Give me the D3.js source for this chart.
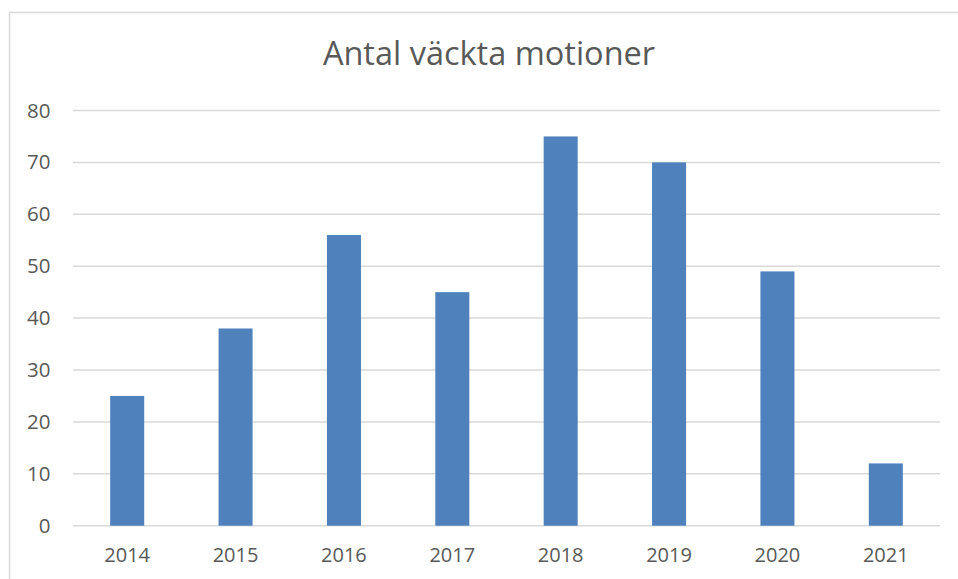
<!DOCTYPE html>
<html>
<head>
<meta charset="utf-8">
<script src="https://cdnjs.cloudflare.com/ajax/libs/d3/7.8.5/d3.min.js"></script>
<style>
  body { margin: 0; background: #fff; }
  text { font-family: "Open Sans", "Noto Sans", sans-serif; fill: #595959; }
</style>
</head>
<body>
<script>
// data
var years = ["2014", "2015", "2016", "2017", "2018", "2019", "2020", "2021"];
var motioner = [25, 38, 56, 45, 75, 70, 49, 12];
var yTicks = [0, 10, 20, 30, 40, 50, 60, 70, 80];
var title = "Antal väckta motioner";

var width = 958, height = 579;
var plotLeft = 73, plotRight = 940, plotTop = 110.5, plotBottom = 525.7;

var svg = d3.select("body").append("svg")
	.attr("width", width)
	.attr("height", height);

// chart frame
svg.append("rect")
	.attr("x", 9.5)
	.attr("y", 12.5)
	.attr("width", 960)
	.attr("height", 600)
	.attr("fill", "#fff")
	.attr("stroke", "#d9d9d9")
	.attr("stroke-width", 1.5);

var x = d3.scaleBand()
	.domain(years)
	.range([plotLeft, plotRight])
	.paddingInner(0.686)
	.paddingOuter(0.343);

var y = d3.scaleLinear()
	.domain([0, 80])
	.range([plotBottom, plotTop]);

// gridlines
svg.append("g")
	.selectAll("line")
	.data(yTicks)
	.join("line")
	.attr("x1", plotLeft)
	.attr("x2", plotRight)
	.attr("y1", d => y(d))
	.attr("y2", d => y(d))
	.attr("stroke", "#d9d9d9")
	.attr("stroke-width", 1.5);

// y labels
var yAxis = svg.append("g")
	.attr("transform", "translate(" + plotLeft + ",0)")
	.call(d3.axisLeft(y).tickValues(yTicks).tickSize(0).tickPadding(22.5));
yAxis.select(".domain").remove();
yAxis.selectAll("text")
	.attr("font-size", 20.5)
	.attr("fill", "#595959")
	.attr("font-family", "'Open Sans', sans-serif");

// bars
svg.append("g")
	.selectAll("rect")
	.data(motioner)
	.join("rect")
	.attr("x", (d, i) => x(years[i]))
	.attr("y", d => y(d))
	.attr("width", x.bandwidth())
	.attr("height", d => y(0) - y(d))
	.attr("fill", "#4f81bd");

// x labels
var xAxis = svg.append("g")
	.attr("transform", "translate(0," + plotBottom + ")")
	.call(d3.axisBottom(x).tickSize(0).tickPadding(22));
xAxis.select(".domain").remove();
xAxis.selectAll("text")
	.attr("font-size", 20)
	.attr("fill", "#595959")
	.attr("font-family", "'Open Sans', sans-serif");

// title
svg.append("text")
	.attr("x", 489)
	.attr("y", 65)
	.attr("text-anchor", "middle")
	.attr("font-size", 32.5)
	.text(title);
</script>
</body>
</html>
